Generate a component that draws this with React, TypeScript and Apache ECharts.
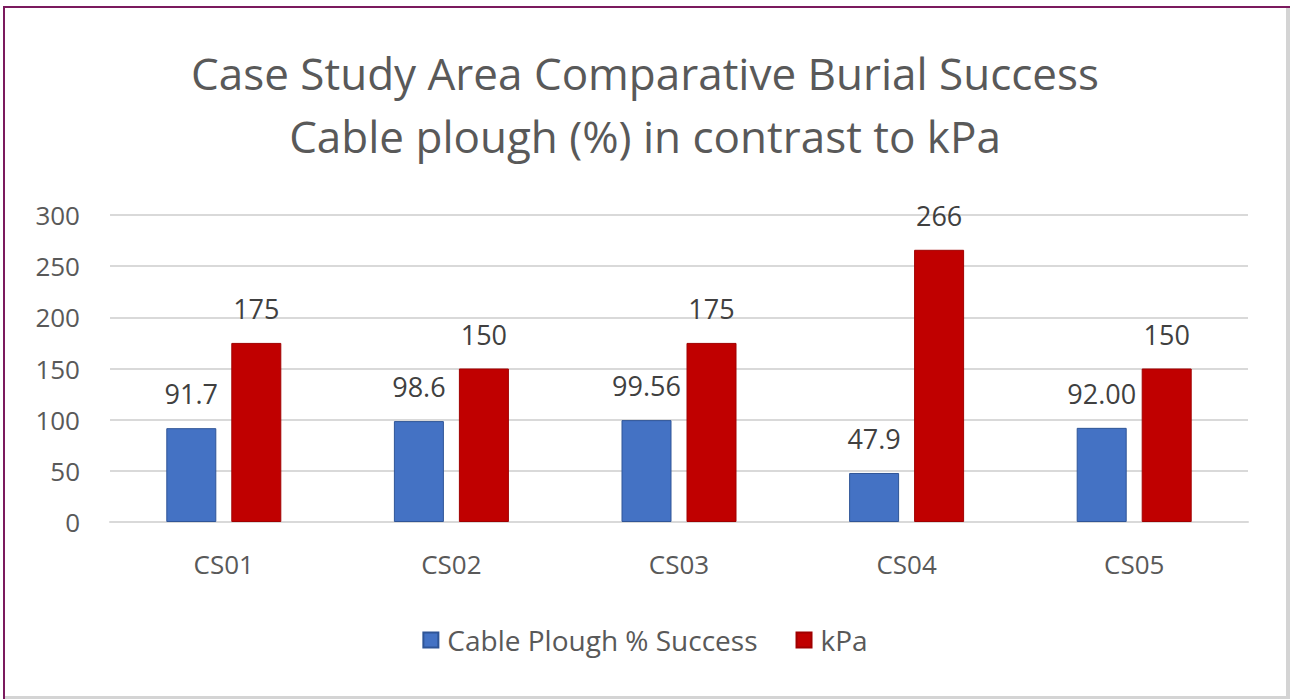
import React, { useEffect, useRef } from "react";
import * as echarts from "echarts";

const categories = ["CS01", "CS02", "CS03", "CS04", "CS05"];
const ploughSuccess = [91.7, 98.6, 99.56, 47.9, 92.0];
const ploughLabels = ["91.7", "98.6", "99.56", "47.9", "92.00"];
const kpa = [175, 150, 175, 266, 150];
const kpaLabels = ["175", "150", "175", "266", "150"];
const seriesNames = ["Cable Plough % Success", "kPa"];
const titleLines = ["Case Study Area Comparative Burial Success", "Cable plough (%) in contrast to kPa"];

const FONT = "'Open Sans', 'Noto Sans', sans-serif";

export default function App() {
  const ref = useRef<HTMLDivElement>(null);
  useEffect(() => {
    const chart = echarts.init(ref.current!, null, { renderer: "svg" });
    chart.setOption({
      animation: false,
      backgroundColor: "#ffffff",
      title: {
        text: titleLines.join("\n"),
        left: "center",
        top: 36,
        textStyle: { fontFamily: FONT, fontSize: 44, fontWeight: "normal", color: "#595959", lineHeight: 63 },
      },
      grid: { left: 110, right: 42, top: 215, bottom: 177, containLabel: false },
      legend: {
        bottom: 40,
        left: "center",
        itemWidth: 15,
        itemHeight: 15,
        itemGap: 38,
        icon: "rect",
        textStyle: { fontFamily: FONT, fontSize: 28, color: "#595959", padding: [0, 0, 0, 4] },
        data: seriesNames,
      },
      xAxis: {
        type: "category",
        data: categories,
        axisLine: { lineStyle: { color: "#d9d9d9", width: 2 } },
        axisTick: { show: false },
        axisLabel: { fontFamily: FONT, fontSize: 26, color: "#595959", margin: 29 },
      },
      yAxis: {
        type: "value",
        min: 0,
        max: 300,
        interval: 50,
        axisLine: { show: false },
        axisTick: { show: false },
        splitLine: { lineStyle: { color: "#d9d9d9", width: 2 } },
        axisLabel: { fontFamily: FONT, fontSize: 26, color: "#595959", margin: 30 },
      },
      series: [
        {
          name: seriesNames[0],
          type: "bar",
          data: ploughSuccess,
          barWidth: 50,
          barGap: "30%",
          itemStyle: { color: "#4472c4", borderColor: "#2f5597", borderWidth: 1 },
          label: {
            show: true,
            position: "top",
            distance: 21,
            fontFamily: FONT,
            fontSize: 27,
            color: "#404040",
            formatter: (p: any) => ploughLabels[p.dataIndex],
          },
        },
        {
          name: seriesNames[1],
          type: "bar",
          data: kpa,
          barWidth: 50,
          barGap: "30%",
          itemStyle: { color: "#c00000", borderColor: "#a00000", borderWidth: 1 },
          label: {
            show: true,
            position: "top",
            distance: 21,
            fontFamily: FONT,
            fontSize: 27,
            color: "#404040",
            formatter: (p: any) => kpaLabels[p.dataIndex],
          },
        },
      ],
      graphic: [
        { type: "rect", shape: { x: 3, y: 6, width: 1287, height: 2 }, style: { fill: "#7b1a5e" } },
        { type: "rect", shape: { x: 3, y: 6, width: 2, height: 693 }, style: { fill: "#7b1a5e" } },
        { type: "rect", shape: { x: 1286, y: 8, width: 4, height: 691 }, style: { fill: "#d4d4d4" } },
        { type: "rect", shape: { x: 5, y: 696, width: 1285, height: 3 }, style: { fill: "#d4d4d4" } },
      ],
    });
    return () => chart.dispose();
  }, []);
  return (
    <div
      ref={ref}
      style={{ position: "fixed", left: 0, top: 0, width: 1290, height: 699 }}
    />
  );
}
